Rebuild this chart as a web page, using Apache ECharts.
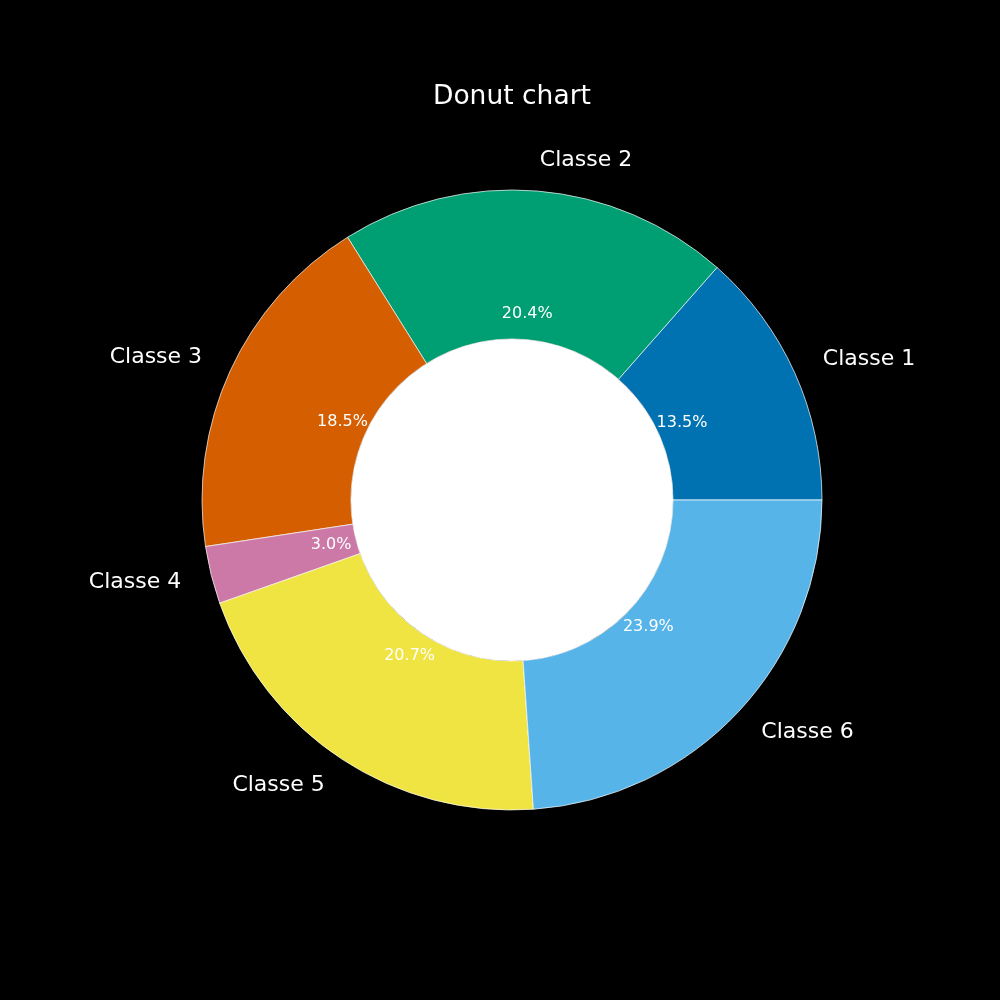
<!DOCTYPE html>
<html>
<head>
<meta charset="utf-8">
<script src="https://cdn.jsdelivr.net/npm/echarts@6/dist/echarts.min.js"></script>
<style>html,body{margin:0;padding:0;background:#000;}#c{width:1000px;height:1000px;}</style>
</head>
<body>
<div id="c"></div>
<script>
const categories = ['Classe 1', 'Classe 2', 'Classe 3', 'Classe 4', 'Classe 5', 'Classe 6'];
const values = [13.5, 20.4, 18.5, 3.0, 20.7, 23.9];
const colors = ['#0072B2', '#009E73', '#D55E00', '#CC79A7', '#F0E442', '#56B4E9'];
const titleText = 'Donut chart';

const total = values.reduce((a, b) => a + b, 0);

const font = 'DejaVu Sans';
const chart = echarts.init(document.getElementById('c'));
const center = [512, 500];
chart.setOption({
  backgroundColor: '#000',
  animation: false,
  title: {
    text: titleText, left: 433, top: 84, padding: 0,
    textStyle: { color: '#fff', fontFamily: font, fontSize: 26.5, fontWeight: 'normal' }
  },
  series: [
    {
      type: 'pie', center: center, radius: [161, 310], startAngle: 0, clockwise: false,
      silent: true, avoidLabelOverlap: false,
      label: {
        show: true, position: 'outside', color: '#fff', fontFamily: font, fontSize: 22,
        distanceToLabelLine: 0, formatter: p => p.name
      },
      labelLine: { show: false, length: 31, length2: 0 },
      itemStyle: { borderColor: '#fff', borderWidth: 0.7 },
      data: categories.map((n, i) => ({ name: n, value: values[i], itemStyle: { color: colors[i] } }))
    },
    {
      type: 'pie', center: center, radius: [0, 161], silent: true,
      label: { show: false }, labelLine: { show: false },
      data: [{ value: 1, name: 'hole', itemStyle: { color: '#fff' } }]
    },
    {
      type: 'pie', center: center, radius: [0, 367], startAngle: 0, clockwise: false, silent: true,
      itemStyle: { color: 'rgba(0,0,0,0)' }, labelLine: { show: false },
      label: {
        show: true, position: 'inside', color: '#fff', fontFamily: font, fontSize: 16,
        formatter: p => (p.value / total * 100).toFixed(1) + '%'
      },
      data: categories.map((n, i) => ({ name: n, value: values[i] }))
    }
  ]
});
</script>
</body>
</html>
